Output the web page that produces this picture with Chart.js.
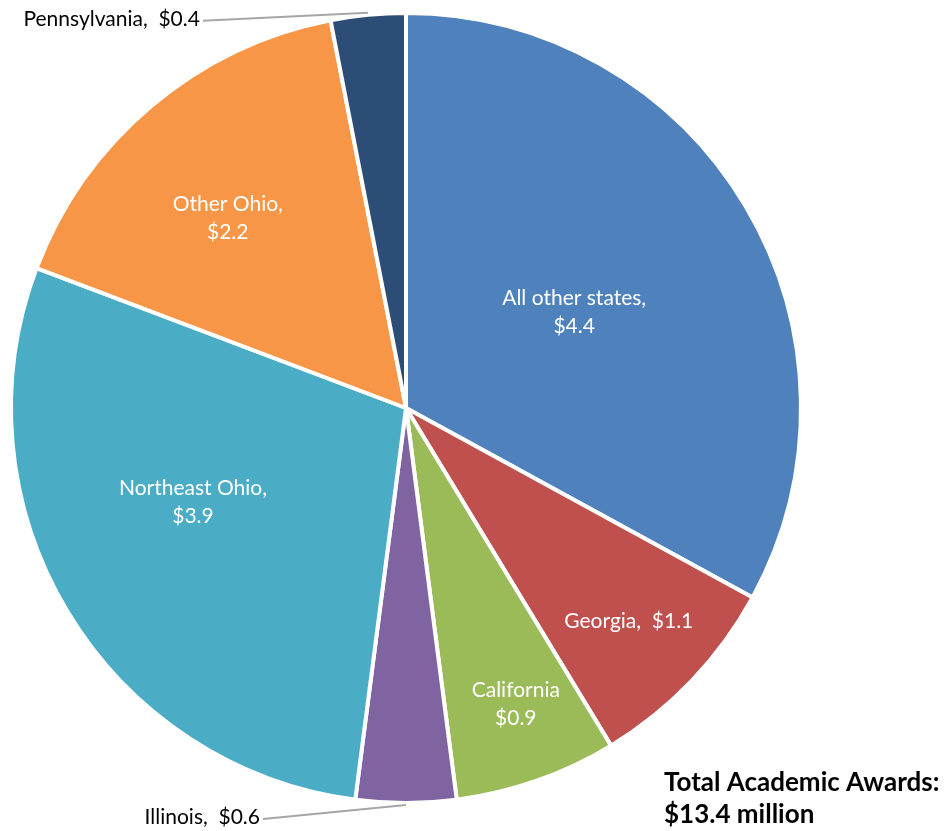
<!DOCTYPE html>
<html>
<head>
<meta charset="utf-8">
<script src="https://cdn.jsdelivr.net/npm/chart.js@4"></script>
<style>
    html, body { margin: 0; padding: 0; background: #fff; }
    #wrap { width: 948px; height: 831px; }
</style>
</head>
<body>
<div id="wrap"><canvas id="awards-chart" width="948" height="831"></canvas></div>
<script>
// award amounts in $ million (labels show the rounded values)
const regions = ['All other states', 'Georgia', 'California', 'Illinois', 'Northeast Ohio', 'Other Ohio', 'Pennsylvania'];
const awards = [4.42, 1.12, 0.89, 0.55, 3.85, 2.17, 0.41];
const sliceColors = ['#4F81BD', '#C0504D', '#9BBB59', '#8064A2', '#4BACC6', '#F79646', '#2C4D75'];
const labelLines = [
    ['All other states,', '$4.4'],
    ['Georgia,  $1.1'],
    ['California', '$0.9'],
    ['Illinois,  $0.6'],
    ['Northeast Ohio,', '$3.9'],
    ['Other Ohio,', '$2.2'],
    ['Pennsylvania,  $0.4']
];
const totalLines = ['Total Academic Awards:', '$13.4 million'];

const FONT = 'Lato, "Open Sans", sans-serif';

// label placement: inside slices use a radial fraction, small ones get a leader line
const labelPlacement = [
    { frac: 0.49, turn: 1 },
    { frac: 0.78, turn: 0 },
    { frac: 0.80, turn: -1 },
    { leader: [-143, 14] },
    { frac: 0.59, turn: 7 },
    { frac: 0.66, turn: -3 },
    { leader: [-165, 8] }
];

const sliceLabels = {
    id: 'sliceLabels',
    afterDatasetsDraw(chart) {
        const ctx = chart.ctx;
        const arcs = chart.getDatasetMeta(0).data;
        ctx.save();
        ctx.font = '21px ' + FONT;
        arcs.forEach((arc, i) => {
            const { x, y, startAngle, endAngle, outerRadius } = arc.getProps(['x', 'y', 'startAngle', 'endAngle', 'outerRadius'], true);
            const place = labelPlacement[i];
            const mid = (startAngle + endAngle) / 2;
            if (place.leader) {
                const sx = x + Math.cos(mid) * (outerRadius + 2);
                const sy = y + Math.sin(mid) * (outerRadius + 2);
                const ex = sx + place.leader[0];
                const ey = sy + place.leader[1];
                ctx.strokeStyle = '#A6A6A6';
                ctx.lineWidth = 2;
                ctx.beginPath();
                ctx.moveTo(sx, sy);
                ctx.lineTo(ex, ey);
                ctx.stroke();
                ctx.fillStyle = '#000';
                ctx.textAlign = 'right';
                ctx.textBaseline = 'middle';
                ctx.fillText(labelLines[i][0], ex - 3, ey - 2);
            } else {
                const a = mid + place.turn * Math.PI / 180;
                const lx = x + Math.cos(a) * outerRadius * place.frac;
                const ly = y + Math.sin(a) * outerRadius * place.frac;
                const lines = labelLines[i];
                const lh = 28;
                ctx.fillStyle = '#fff';
                ctx.textAlign = 'center';
                ctx.textBaseline = 'middle';
                lines.forEach((t, k) => {
                    ctx.fillText(t, lx, ly + (k - (lines.length - 1) / 2) * lh);
                });
            }
        });

        ctx.font = 'bold 26px ' + FONT;
        ctx.fillStyle = '#000';
        ctx.textAlign = 'left';
        ctx.textBaseline = 'middle';
        ctx.fillText(totalLines[0], 664, 783);
        ctx.fillText(totalLines[1], 664, 815);
        ctx.restore();
    }
};

new Chart(document.getElementById('awards-chart').getContext('2d'), {
    type: 'pie',
    data: {
        labels: regions,
        datasets: [{
            data: awards,
            backgroundColor: sliceColors,
            borderColor: '#fff',
            borderWidth: 4
        }]
    },
    options: {
        responsive: false,
        animation: false,
        layout: { padding: { left: 8, right: 144, top: 11, bottom: 26 } },
        plugins: {
            legend: { display: false },
            tooltip: { enabled: false }
        }
    },
    plugins: [sliceLabels]
});
</script>
</body>
</html>
